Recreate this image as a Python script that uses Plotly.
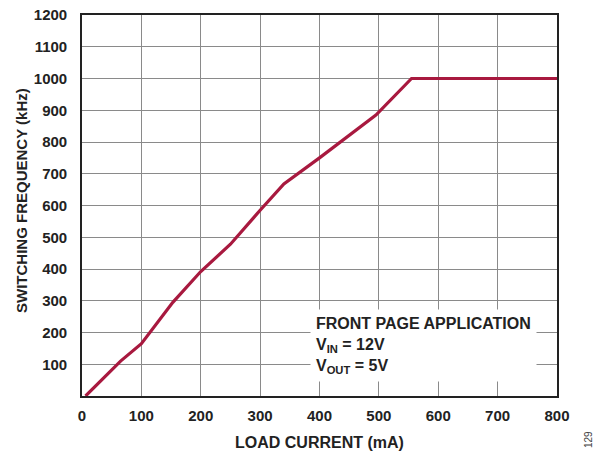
import plotly.graph_objects as go

load_current_ma = [6, 65, 100, 153, 200, 250, 300, 340, 400, 495, 555, 800]
switching_freq_khz = [0, 110, 165, 295, 392, 478, 585, 668, 750, 885, 1000, 1000]

x_ticks = [0, 100, 200, 300, 400, 500, 600, 700, 800]
y_ticks = [100, 200, 300, 400, 500, 600, 700, 800, 900, 1000, 1100, 1200]

FONT = "Liberation Sans, Arial, sans-serif"
L, R, T, B, W, H = 82, 50, 15, 59, 607, 455
PW, PH = W - L - R, H - T - B

def px_x(p):
    return (p - L) / PW

def px_y(p):
    return (H - B - p) / PH

fig = go.Figure()
fig.add_trace(go.Scatter(
    x=load_current_ma, y=switching_freq_khz, mode="lines",
    line=dict(color="#A8193F", width=3.2), showlegend=False,
))

axis_common = dict(
    showgrid=True, gridcolor="#8a8a8a", gridwidth=1,
    showline=True, linecolor="#222222", linewidth=1.6, mirror=True,
    ticks="", zeroline=False, automargin=False,
    tickfont=dict(family=FONT, size=15, color="#222222", weight="bold"),
)

fig.update_xaxes(
    range=[0, 800], tickvals=x_ticks, ticktext=[str(v) for v in x_ticks],
    ticklabelstandoff=5,
    **axis_common,
)
fig.update_yaxes(
    range=[0, 1200], tickvals=y_ticks, ticktext=[str(v) for v in y_ticks],
    ticklabelstandoff=10,
    **axis_common,
)

# axis titles
fig.add_annotation(
    xref="paper", yref="paper", x=0.5, y=px_y(442),
    xanchor="center", yanchor="middle", showarrow=False,
    text="LOAD CURRENT (mA)",
    font=dict(family=FONT, size=16, color="#222222", weight="bold"),
)
fig.add_annotation(
    xref="paper", yref="paper", x=px_x(21.5), y=px_y(200.5),
    xanchor="center", yanchor="middle", showarrow=False, textangle=-90,
    text="SWITCHING FREQUENCY (kHz)",
    font=dict(family=FONT, size=15, color="#222222", weight="bold"),
)

fig.add_annotation(
    x=384, y=275, xref="x", yref="y", xanchor="left", yanchor="top",
    align="left", showarrow=False, bgcolor="white", borderpad=5,
    text="FRONT PAGE APPLICATION<br>V<sub>IN</sub> = 12V<br>V<sub>OUT</sub> = 5V",
    font=dict(family=FONT, size=16, color="#222222", weight="bold"),
)
fig.add_annotation(
    xref="paper", yref="paper", x=px_x(588), y=px_y(440),
    xanchor="center", yanchor="middle",
    text="129", textangle=-90, showarrow=False,
    font=dict(family=FONT, size=10, color="#444444"),
)

fig.update_layout(
    width=W, height=H,
    margin=dict(l=L, r=R, t=T, b=B),
    paper_bgcolor="white", plot_bgcolor="white",
    font=dict(family=FONT),
)

fig.write_html("out.html")
